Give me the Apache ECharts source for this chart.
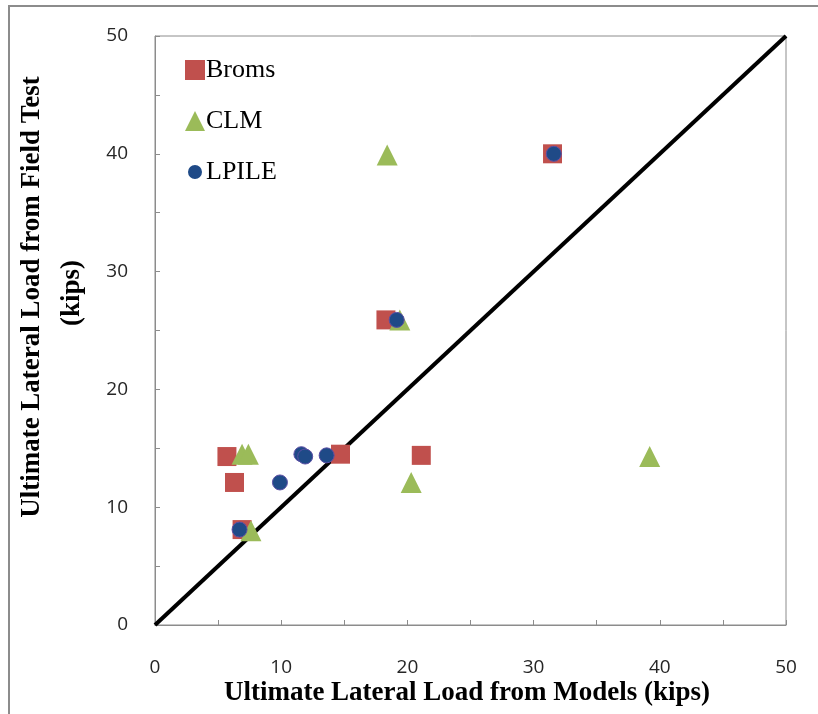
<!DOCTYPE html>
<html>
<head>
<meta charset="utf-8">
<script src="https://cdn.jsdelivr.net/npm/echarts@6/dist/echarts.min.js"></script>
<style>html,body{margin:0;padding:0;background:#fff;}#c{width:818px;height:714px;}</style>
</head>
<body>
<div id="c"></div>
<script>
const seriesNames = ['Broms', 'CLM', 'LPILE'];
const bromsX = [5.7, 6.3, 6.9, 14.7, 21.1, 18.3, 31.5];
const bromsY = [14.3, 12.1, 8.1, 14.5, 14.4, 25.9, 40.0];
const clmX = [6.9, 7.4, 7.6, 20.3, 39.2, 18.4, 19.4];
const clmY = [14.5, 14.5, 8.0, 12.1, 14.3, 39.9, 25.9];
const lpileX = [6.7, 9.9, 11.6, 11.9, 13.6, 19.15, 31.6];
const lpileY = [8.1, 12.1, 14.5, 14.3, 14.4, 25.9, 40.0];
const lineX = [0, 50];
const lineY = [0, 50];
const xTitle = 'Ultimate Lateral Load from Models (kips)';
const yTitle1 = 'Ultimate Lateral Load from Field Test';
const yTitle2 = '(kips)';

const zip = (a, b) => a.map((v, i) => [v, b[i]]);
const chart = echarts.init(document.getElementById('c'), null, {renderer: 'canvas'});
const axisCommon = {
  type: 'value', min: 0, max: 50, interval: 10,
  axisLine: {show: true, lineStyle: {color: '#8c8c8c', width: 1}},
  axisTick: {show: true, inside: true, length: 5, lineStyle: {color: '#8c8c8c'}},
  minorTick: {show: true, splitNumber: 2, length: 5, lineStyle: {color: '#8c8c8c'}},
  splitLine: {show: false},
  axisLabel: {fontFamily: 'Open Sans', fontSize: 19, color: '#262626'}
};
// small circle inside a 20x20 box for the legend icon
const smallCircle = 'path://M0,0L0.001,0M20,20L19.999,20M17,10A7,7,0,1,1,3,10A7,7,0,1,1,17,10Z';
chart.setOption({
  animation: false,
  backgroundColor: '#fff',
  grid: {left: 155, right: 32, top: 36, bottom: 89, show: true, borderColor: '#8c8c8c', borderWidth: 1},
  xAxis: Object.assign({}, axisCommon, {axisLabel: Object.assign({}, axisCommon.axisLabel, {margin: 33})}),
  yAxis: Object.assign({}, axisCommon, {axisLabel: Object.assign({}, axisCommon.axisLabel, {margin: 27})}),
  legend: {
    orient: 'vertical', left: 180, top: 52, itemGap: 25, itemWidth: 20, itemHeight: 20,
    textStyle: {fontFamily: 'Liberation Serif', fontSize: 26, color: '#000', padding: [0, 0, 0, -4]},
    data: [
      {name: 'Broms', icon: 'rect'},
      {name: 'CLM', icon: 'triangle'},
      {name: 'LPILE', icon: smallCircle, itemStyle: {borderWidth: 0}}
    ]
  },
  graphic: [
    {type: 'rect', shape: {x: 9, y: 6, width: 900, height: 800}, style: {fill: 'none', stroke: '#8c8c8c', lineWidth: 2}, silent: true, z: -1},
    {type: 'text', x: 467, y: 693, style: {text: xTitle, font: 'bold 27px "Liberation Serif"', fill: '#000', align: 'center', verticalAlign: 'middle'}},
    {type: 'text', x: 32, y: 297, rotation: Math.PI / 2, style: {text: yTitle1, font: 'bold 27px "Liberation Serif"', fill: '#000', align: 'center', verticalAlign: 'middle'}},
    {type: 'text', x: 72, y: 293, rotation: Math.PI / 2, style: {text: yTitle2, font: 'bold 27px "Liberation Serif"', fill: '#000', align: 'center', verticalAlign: 'middle'}}
  ],
  series: [
    {type: 'line', data: zip(lineX, lineY), showSymbol: false, symbol: 'none', lineStyle: {color: '#000', width: 4}, z: 1, silent: true},
    {name: seriesNames[0], type: 'scatter', data: zip(bromsX, bromsY), symbol: 'rect', symbolSize: 19, itemStyle: {color: '#C0504D', opacity: 1}, z: 2},
    {name: seriesNames[1], type: 'scatter', data: zip(clmX, clmY), symbol: 'triangle', symbolSize: 21, itemStyle: {color: '#9BBB59', opacity: 1}, z: 3},
    {name: seriesNames[2], type: 'scatter', data: zip(lpileX, lpileY), symbol: 'circle', symbolSize: 15, itemStyle: {color: '#1F4A87', borderColor: '#5B4FA5', borderWidth: 1, opacity: 1}, z: 4}
  ]
});
</script>
</body>
</html>
